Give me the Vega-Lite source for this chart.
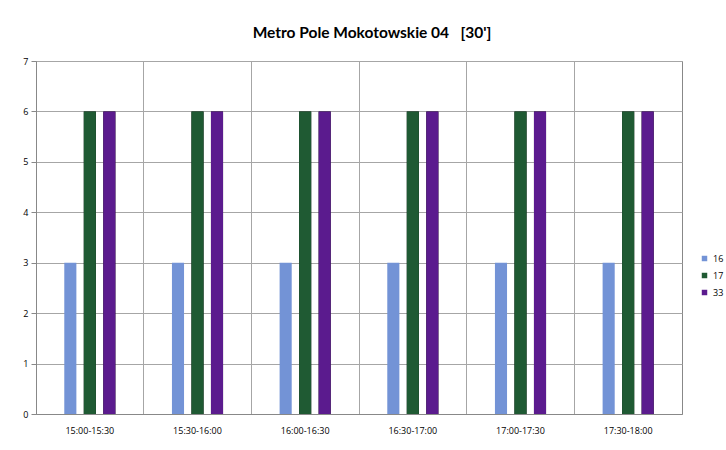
{
  "$schema": "https://vega.github.io/schema/vega-lite/v6.json",
  "width": 646,
  "height": 353,
  "autosize": {"type": "none"},
  "padding": {"left": 36, "top": 61, "right": 44, "bottom": 36},
  "background": "white",
  "title": {
    "text": "Metro Pole Mokotowskie 04\u00a0\u00a0\u00a0[30']",
    "font": "Lato",
    "fontSize": 15.5,
    "fontWeight": "bold",
    "color": "#000000",
    "anchor": "middle",
    "dx": 13,
    "offset": 16
  },
  "data": {
    "values": [
      {"time": "15:00-15:30", "line": "16", "value": 3},
      {"time": "15:00-15:30", "line": "17", "value": 6},
      {"time": "15:00-15:30", "line": "33", "value": 6},
      {"time": "15:30-16:00", "line": "16", "value": 3},
      {"time": "15:30-16:00", "line": "17", "value": 6},
      {"time": "15:30-16:00", "line": "33", "value": 6},
      {"time": "16:00-16:30", "line": "16", "value": 3},
      {"time": "16:00-16:30", "line": "17", "value": 6},
      {"time": "16:00-16:30", "line": "33", "value": 6},
      {"time": "16:30-17:00", "line": "16", "value": 3},
      {"time": "16:30-17:00", "line": "17", "value": 6},
      {"time": "16:30-17:00", "line": "33", "value": 6},
      {"time": "17:00-17:30", "line": "16", "value": 3},
      {"time": "17:00-17:30", "line": "17", "value": 6},
      {"time": "17:00-17:30", "line": "33", "value": 6},
      {"time": "17:30-18:00", "line": "16", "value": 3},
      {"time": "17:30-18:00", "line": "17", "value": 6},
      {"time": "17:30-18:00", "line": "33", "value": 6}
    ]
  },
  "encoding": {
    "x": {
      "field": "time",
      "type": "nominal",
      "scale": {"paddingInner": 0, "paddingOuter": 0},
      "axis": {
        "title": null,
        "labelAngle": 0,
        "labelFont": "Open Sans",
        "labelFontSize": 9,
        "labelColor": "#000000",
        "labelPadding": 12,
        "ticks": false,
        "domain": true,
        "domainColor": "#888888",
        "grid": true,
        "gridColor": "#a6a6a6",
        "bandPosition": 0
      }
    },
    "xOffset": {
      "field": "line",
      "type": "nominal",
      "scale": {"domain": ["a", "16", "17", "33", "b"], "paddingInner": 0.38, "paddingOuter": 0.45}
    },
    "y": {
      "field": "value",
      "type": "quantitative",
      "scale": {"domain": [0, 7], "nice": false},
      "axis": {
        "title": null,
        "values": [0, 1, 2, 3, 4, 5, 6, 7],
        "labelFont": "Open Sans",
        "labelFontSize": 9,
        "labelColor": "#000000",
        "labelPadding": 3,
        "tickSize": 5,
        "tickColor": "#888888",
        "domainColor": "#888888",
        "gridColor": "#a6a6a6"
      }
    }
  },
  "layer": [
    {
      "transform": [{"filter": "datum.line != '16'"}],
      "mark": {"type": "bar", "color": "#000000", "xOffset": 2}
    },
    {
      "mark": {"type": "bar"},
      "encoding": {
        "color": {
          "field": "line",
          "type": "nominal",
          "scale": {"domain": ["16", "17", "33"], "range": ["#7393d6", "#1f5a33", "#5b1b8e"]},
          "legend": {
            "title": null,
            "orient": "none",
            "legendX": 664,
            "legendY": 193,
            "symbolType": "square",
            "symbolSize": 30,
            "symbolStrokeWidth": 0,
            "labelFont": "Open Sans",
            "labelFontSize": 9,
            "labelColor": "#000000",
            "rowPadding": 7
          }
        }
      }
    }
  ],
  "config": {
    "view": {"stroke": "#888888"}
  }
}
